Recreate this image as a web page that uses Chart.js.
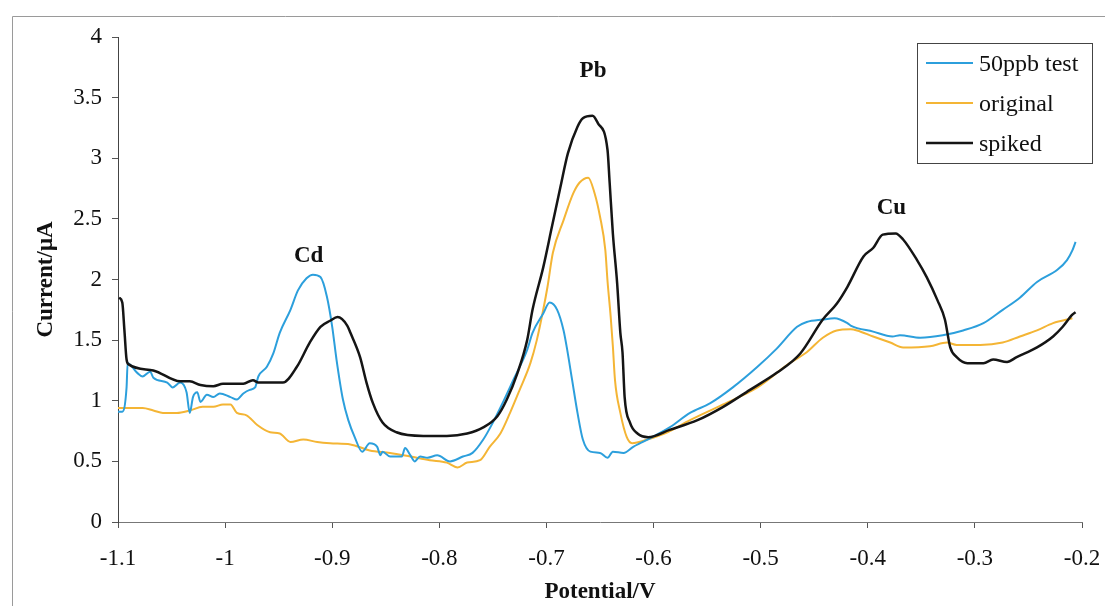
<!DOCTYPE html>
<html>
<head>
<meta charset="utf-8">
<script src="https://cdn.jsdelivr.net/npm/chart.js@4/dist/chart.umd.min.js"></script>
<style>
  body { margin: 0; background: #fff; }
  canvas { display: block; }
</style>
</head>
<body>
<canvas id="myChart" width="1107" height="615"></canvas>
<script>
// stripping voltammograms, current (uA) vs potential (V)

var testV = [-1.100,-1.096,-1.092,-1.091,-1.082,-1.077,-1.070,-1.067,-1.054,-1.049,-1.042,-1.036,-1.033,-1.030,-1.026,-1.023,-1.017,-1.011,-1.005,-0.995,-0.989,-0.983,-0.977,-0.972,-0.969,-0.961,-0.955,-0.949,-0.939,-0.932,-0.924,-0.918,-0.911,-0.905,-0.900,-0.896,-0.890,-0.885,-0.879,-0.872,-0.865,-0.858,-0.855,-0.853,-0.846,-0.835,-0.832,-0.827,-0.823,-0.818,-0.811,-0.802,-0.790,-0.778,-0.769,-0.759,-0.750,-0.741,-0.731,-0.718,-0.713,-0.703,-0.697,-0.690,-0.684,-0.681,-0.676,-0.671,-0.666,-0.659,-0.650,-0.643,-0.638,-0.628,-0.619,-0.610,-0.585,-0.566,-0.547,-0.526,-0.503,-0.485,-0.466,-0.457,-0.442,-0.431,-0.419,-0.416,-0.395,-0.377,-0.370,-0.351,-0.330,-0.311,-0.292,-0.274,-0.258,-0.242,-0.223,-0.214,-0.209,-0.206];
var testI = [0.91,0.91,1.11,1.31,1.23,1.20,1.24,1.19,1.15,1.11,1.15,1.07,0.90,1.03,1.07,0.99,1.05,1.03,1.06,1.03,1.01,1.06,1.09,1.11,1.20,1.28,1.39,1.56,1.75,1.91,2.01,2.04,2.02,1.86,1.61,1.34,1.01,0.84,0.70,0.58,0.65,0.62,0.55,0.58,0.54,0.54,0.61,0.55,0.50,0.54,0.53,0.55,0.50,0.54,0.57,0.68,0.82,0.98,1.17,1.42,1.56,1.72,1.81,1.75,1.58,1.44,1.17,0.90,0.68,0.58,0.57,0.53,0.58,0.57,0.62,0.66,0.78,0.90,0.98,1.11,1.28,1.43,1.61,1.65,1.67,1.68,1.64,1.62,1.57,1.53,1.54,1.52,1.54,1.58,1.64,1.75,1.85,1.98,2.08,2.16,2.24,2.31];

var originalV = [-1.100,-1.077,-1.067,-1.058,-1.045,-1.033,-1.021,-1.011,-1.002,-0.995,-0.989,-0.980,-0.970,-0.958,-0.949,-0.939,-0.927,-0.914,-0.902,-0.883,-0.865,-0.846,-0.827,-0.809,-0.793,-0.783,-0.774,-0.762,-0.753,-0.743,-0.734,-0.725,-0.715,-0.709,-0.703,-0.699,-0.694,-0.684,-0.675,-0.669,-0.661,-0.655,-0.650,-0.645,-0.643,-0.640,-0.638,-0.636,-0.631,-0.625,-0.620,-0.606,-0.587,-0.566,-0.535,-0.503,-0.473,-0.457,-0.442,-0.429,-0.416,-0.410,-0.395,-0.379,-0.367,-0.342,-0.326,-0.317,-0.295,-0.274,-0.258,-0.242,-0.227,-0.209];
var originalI = [0.94,0.94,0.92,0.90,0.90,0.92,0.95,0.95,0.97,0.97,0.90,0.88,0.80,0.74,0.73,0.66,0.68,0.66,0.65,0.64,0.59,0.57,0.54,0.51,0.49,0.45,0.49,0.51,0.62,0.73,0.90,1.09,1.31,1.50,1.75,1.94,2.22,2.49,2.71,2.80,2.84,2.71,2.52,2.24,1.99,1.69,1.45,1.17,0.90,0.70,0.65,0.68,0.74,0.84,0.97,1.11,1.31,1.40,1.52,1.58,1.59,1.58,1.53,1.48,1.44,1.45,1.48,1.46,1.46,1.48,1.53,1.58,1.64,1.68];

var spikedV = [-1.099,-1.096,-1.094,-1.092,-1.090,-1.067,-1.042,-1.033,-1.023,-1.011,-1.002,-0.983,-0.974,-0.969,-0.946,-0.933,-0.921,-0.911,-0.902,-0.895,-0.886,-0.883,-0.874,-0.868,-0.862,-0.853,-0.840,-0.815,-0.793,-0.774,-0.759,-0.746,-0.737,-0.727,-0.718,-0.713,-0.703,-0.695,-0.687,-0.680,-0.671,-0.666,-0.657,-0.652,-0.643,-0.641,-0.638,-0.634,-0.631,-0.629,-0.627,-0.622,-0.615,-0.605,-0.585,-0.559,-0.535,-0.510,-0.485,-0.463,-0.442,-0.429,-0.419,-0.404,-0.395,-0.386,-0.374,-0.367,-0.354,-0.345,-0.335,-0.328,-0.323,-0.317,-0.307,-0.292,-0.283,-0.270,-0.261,-0.242,-0.227,-0.218,-0.209,-0.206];
var spikedI = [1.85,1.81,1.58,1.34,1.30,1.25,1.16,1.16,1.13,1.12,1.14,1.14,1.17,1.15,1.15,1.28,1.48,1.61,1.66,1.69,1.62,1.56,1.36,1.15,0.98,0.82,0.74,0.71,0.71,0.73,0.78,0.87,1.01,1.23,1.50,1.75,2.10,2.43,2.76,3.04,3.26,3.33,3.35,3.29,3.07,2.80,2.38,1.97,1.56,1.40,1.03,0.82,0.73,0.70,0.76,0.84,0.95,1.09,1.23,1.39,1.67,1.80,1.94,2.19,2.26,2.37,2.38,2.33,2.16,2.02,1.83,1.67,1.44,1.36,1.31,1.31,1.34,1.32,1.36,1.44,1.53,1.61,1.71,1.73];

var seriesNames = ['50ppb test', 'original', 'spiked'];
var peakNames = ['Cd', 'Pb', 'Cu'];
var peakV = [-0.922, -0.6565, -0.378];
var peakI = [2.19, 3.72, 2.59];

function pts(xs, ys) {
    return xs.map(function (x, i) { return { x: x, y: ys[i] }; });
}

// 1.0 -> "1", -1.0 -> "-1"
function trim(v) {
    return String(Math.round(v * 10) / 10);
}

var serif = "'Liberation Serif', 'Times New Roman', serif";

// frame, peak labels and the legend box
var extras = {
    id: 'extras',
    afterDraw: function (chart) {
        var c = chart.ctx;
        var sx = chart.scales.x, sy = chart.scales.y;
        c.save();
        c.strokeStyle = '#9a9a9a';
        c.lineWidth = 1;
        c.beginPath();
        c.moveTo(12.5, 606);
        c.lineTo(12.5, 16.5);
        c.lineTo(1105, 16.5);
        c.stroke();

        c.fillStyle = '#111';
        c.font = 'bold 23px ' + serif;
        c.textAlign = 'center';
        c.textBaseline = 'middle';
        peakNames.forEach(function (n, i) {
            c.fillText(n, sx.getPixelForValue(peakV[i]), sy.getPixelForValue(peakI[i]));
        });

        c.strokeStyle = '#444';
        c.strokeRect(917.5, 43.5, 175, 120);
        c.font = '24px ' + serif;
        c.textAlign = 'left';
        chart.data.datasets.forEach(function (ds, i) {
            var y = 65 + i * 40;
            c.strokeStyle = ds.borderColor;
            c.lineWidth = ds.borderWidth;
            c.beginPath();
            c.moveTo(926, y - 2);
            c.lineTo(973, y - 2);
            c.stroke();
            c.fillStyle = '#111';
            c.fillText(ds.label, 979, y);
        });
        c.restore();
    }
};

var ctx = document.getElementById('myChart').getContext('2d');

const myChart = new Chart(ctx, {
    type: 'line',
    data: {
        datasets: [{
            label: seriesNames[0],
            data: pts(testV, testI),
            borderColor: '#2c9fdc',
            borderWidth: 2,
            order: 1
        }, {
            label: seriesNames[1],
            data: pts(originalV, originalI),
            borderColor: '#f4b535',
            borderWidth: 2,
            order: 2
        }, {
            label: seriesNames[2],
            data: pts(spikedV, spikedI),
            borderColor: '#151515',
            borderWidth: 2.5,
            order: 0
        }]
    },
    options: {
        responsive: false,
        animation: false,
        events: [],
        elements: {
            point: { radius: 0 },
            line: { cubicInterpolationMode: 'monotone' }
        },
        layout: { padding: { top: 37, right: 25, bottom: 0, left: 0 } },
        plugins: {
            legend: { display: false },
            tooltip: { enabled: false }
        },
        scales: {
            x: {
                type: 'linear',
                min: -1.1,
                max: -0.2,
                afterFit: function (s) {
                    s.height = 93;
                    s.paddingLeft = 0;
                    s.paddingRight = 0;
                },
                afterBuildTicks: function (s) {
                    var t = [];
                    for (var k = -11; k <= -2; k++) t.push({ value: k / 10 });
                    s.ticks = t;
                },
                grid: { drawOnChartArea: false, tickLength: 6, color: '#555' },
                border: { color: '#777', width: 1 },
                ticks: {
                    color: '#111',
                    padding: 17,
                    maxRotation: 0,
                    font: { family: serif, size: 23 },
                    callback: trim
                },
                title: {
                    display: true,
                    text: 'Potential/V',
                    color: '#111',
                    font: { family: serif, size: 23, weight: 'bold' },
                    padding: { top: 0, bottom: 9 }
                }
            },
            y: {
                min: 0,
                max: 4,
                afterFit: function (s) {
                    s.width = 118;
                    s.paddingTop = 0;
                    s.paddingBottom = 0;
                },
                grid: { drawOnChartArea: false, tickLength: 6, color: '#555' },
                border: { color: '#444', width: 1 },
                ticks: {
                    stepSize: 0.5,
                    color: '#111',
                    padding: 10,
                    font: { family: serif, size: 23 },
                    callback: trim
                },
                title: {
                    display: true,
                    text: 'Current/\u03bcA',
                    color: '#111',
                    font: { family: serif, size: 23, weight: 'bold' },
                    padding: { top: 32, bottom: 0 }
                }
            }
        }
    },
    plugins: [extras]
});
</script>
</body>
</html>
